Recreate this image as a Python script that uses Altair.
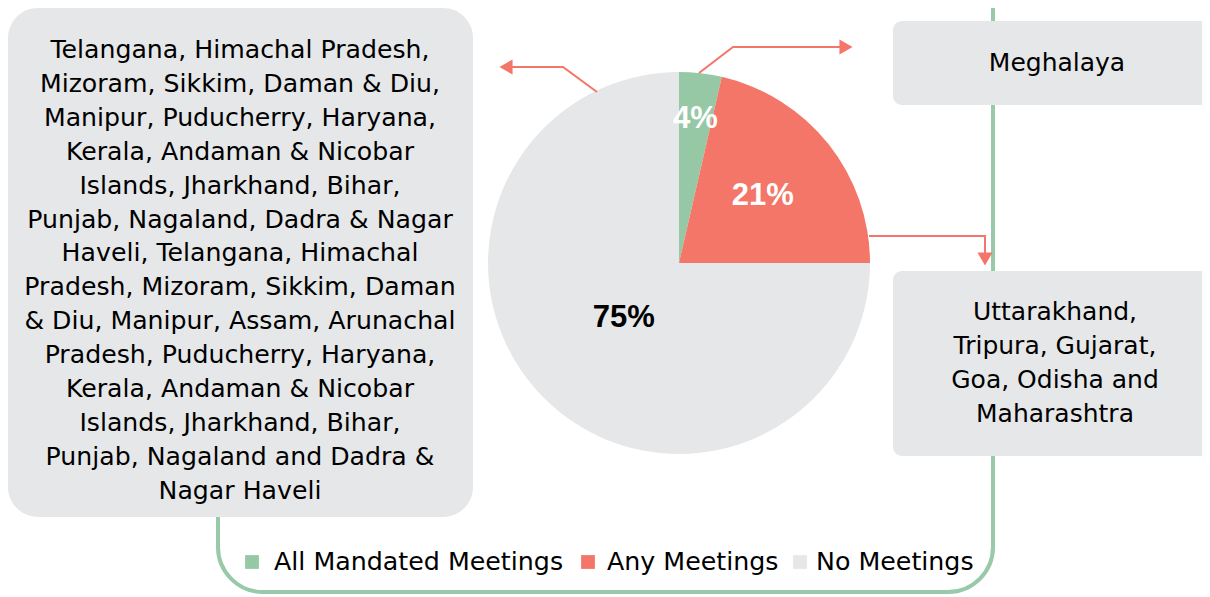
import math
import altair as alt
import pandas as pd

# ---------------- data ----------------
categories = ["All Mandated Meetings", "Any Meetings", "No Meetings"]
shares = [3.6, 21.4, 75.0]
share_labels = ["4%", "21%", "75%"]
category_colors = ["#96c8a6", "#f37668", "#e6e7e8"]

no_meetings_states = [
    "Telangana, Himachal Pradesh,",
    "Mizoram, Sikkim, Daman & Diu,",
    "Manipur, Puducherry, Haryana,",
    "Kerala, Andaman & Nicobar",
    "Islands, Jharkhand, Bihar,",
    "Punjab, Nagaland, Dadra & Nagar",
    "Haveli, Telangana, Himachal",
    "Pradesh, Mizoram, Sikkim, Daman",
    "& Diu, Manipur, Assam, Arunachal",
    "Pradesh, Puducherry, Haryana,",
    "Kerala, Andaman & Nicobar",
    "Islands, Jharkhand, Bihar,",
    "Punjab, Nagaland and Dadra &",
    "Nagar Haveli",
]
all_mandated_states = ["Meghalaya"]
any_meetings_states = ["Uttarakhand,", "Tripura, Gujarat,", "Goa, Odisha and", "Maharashtra"]

# ---------------- layout (page pixels) ----------------
OX, OY = 8, 8
W, H = 1194, 589
FONT = "DejaVu Sans"
LABEL_FONT = "Liberation Sans"
FRAME_COLOR = "#98c9a8"
BOX_COLOR = "#e6e7e8"
ARROW_COLOR = "#f37668"

pie_center = (679, 263)
pie_radius = 191
label_radii = [145, 107, 78]
label_colors = ["white", "white", "black"]

frame_box = dict(x=218, x2=993, y=-60, y2=592)
left_box = dict(x=8, x2=473, y=8, y2=517)
right_boxes = [dict(x=893, x2=1240, y=21, y2=105), dict(x=893, x2=1240, y=271, y2=456)]
text_blocks = [  # x centre, y of first line
    dict(x=240, y=50, lines=no_meetings_states, size=25.2),
    dict(x=1057, y=63, lines=all_mandated_states, size=25),
    dict(x=1055, y=312, lines=any_meetings_states, size=25),
]
arrows = [
    [(699, 73), (733, 47), (841, 47)],
    [(597, 92), (563, 67), (512, 67)],
    [(869, 236), (985, 236), (985, 253)],
]
heads = [(846, 47, "triangle-right"), (506, 67, "triangle-left"), (985, 259, "triangle-down")]
legend_sq_x = [252, 588, 800]
legend_tx_x = [274, 607, 816]
legend_y = 562

xs = alt.Scale(domain=[OX, OX + W], nice=False, zero=False)
ys = alt.Scale(domain=[OY, OY + H], nice=False, zero=False, reverse=True)
theta_scale = alt.Scale(domain=[0, 100], range=[0, 2 * math.pi])


def X(f):
    return alt.X(f"{f}:Q", scale=xs, axis=None)


def Y(f):
    return alt.Y(f"{f}:Q", scale=ys, axis=None)


color_scale = alt.Scale(domain=categories, range=category_colors)

# frame
frame = alt.Chart(pd.DataFrame([frame_box])).mark_rect(
    cornerRadius=45, fillOpacity=0, stroke=FRAME_COLOR, strokeWidth=4
).encode(x=X("x"), x2="x2", y=Y("y"), y2="y2")

# boxes
lbox = alt.Chart(pd.DataFrame([left_box])).mark_rect(
    cornerRadius=30, color=BOX_COLOR
).encode(x=X("x"), x2="x2", y=Y("y"), y2="y2")
rbox = alt.Chart(pd.DataFrame(right_boxes)).mark_rect(
    cornerRadius=9, color=BOX_COLOR
).encode(x=X("x"), x2="x2", y=Y("y"), y2="y2")

# box texts
text_layers = []
for b in text_blocks:
    tdf = pd.DataFrame([dict(x=b["x"], y=b["y"], t="\n".join(b["lines"]))])
    text_layers.append(
        alt.Chart(tdf).mark_text(
            font=FONT, fontSize=b["size"], lineBreak="\n", lineHeight=33.9,
            align="center", baseline="middle", color="black"
        ).encode(x=X("x"), y=Y("y"), text="t:N")
    )

# pie
pie_df = pd.DataFrame({
    "category": categories,
    "share": shares,
    "label": share_labels,
    "order": list(range(len(categories))),
    "lr": label_radii,
    "lc": label_colors,
})
cx = alt.XDatum(pie_center[0], type="quantitative", scale=xs, axis=None)
cy = alt.YDatum(pie_center[1], type="quantitative", scale=ys, axis=None)
pie = alt.Chart(pie_df).mark_arc(radius=pie_radius).encode(
    theta=alt.Theta("share:Q", stack=True, scale=theta_scale),
    color=alt.Color("category:N", scale=color_scale, legend=None),
    order=alt.Order("order:Q"),
    x=cx, y=cy,
)
pie_labels = alt.Chart(pie_df).transform_window(
    cum="sum(share)", sort=[alt.SortField("order")], frame=[None, 0]
).transform_calculate(
    mid="datum.cum - datum.share / 2"
).mark_text(
    font=LABEL_FONT, fontSize=31, fontWeight="bold", align="center", baseline="middle"
).encode(
    theta=alt.Theta("mid:Q", stack=None, scale=theta_scale),
    radius=alt.Radius("lr:Q", scale=None),
    text="label:N",
    color=alt.Color("lc:N", scale=None),
    x=cx, y=cy,
)

# arrows
arows = []
for i, pts in enumerate(arrows):
    for j, (px, py) in enumerate(pts):
        arows.append(dict(a=i, k=j, x=px, y=py))
arrow_lines = alt.Chart(pd.DataFrame(arows)).mark_line(
    color=ARROW_COLOR, strokeWidth=2
).encode(x=X("x"), y=Y("y"), detail="a:N", order="k:Q")
head_layers = [
    alt.Chart(pd.DataFrame([dict(x=hx, y=hy)])).mark_point(
        shape=shp, size=230, filled=True, color=ARROW_COLOR, opacity=1
    ).encode(x=X("x"), y=Y("y"))
    for hx, hy, shp in heads
]

# legend
leg_df = pd.DataFrame({
    "category": categories,
    "sx": legend_sq_x,
    "tx": legend_tx_x,
    "y": [legend_y] * len(categories),
})
leg_sq = alt.Chart(leg_df).mark_square(size=190, opacity=1).encode(
    x=X("sx"), y=Y("y"), color=alt.Color("category:N", scale=color_scale, legend=None)
)
leg_tx = alt.Chart(leg_df).mark_text(
    font=FONT, fontSize=25.3, align="left", baseline="middle", color="black"
).encode(x=X("tx"), y=Y("y"), text="category:N")

chart = alt.layer(
    frame, lbox, rbox, *text_layers, pie, pie_labels, arrow_lines, *head_layers, leg_sq, leg_tx
).properties(
    width=W, height=H, padding=0, autosize=alt.AutoSizeParams(type="none")
).configure_view(stroke=None)

chart.save("out.html", embed_options={"renderer": "svg", "actions": False})
